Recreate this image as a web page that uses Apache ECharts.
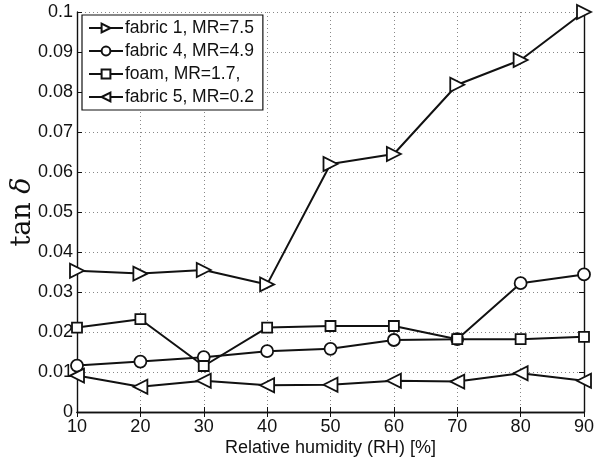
<!DOCTYPE html>
<html><head><meta charset="utf-8">
<script src="https://cdn.jsdelivr.net/npm/echarts@6/dist/echarts.min.js"></script>
<style>html,body{margin:0;padding:0;background:#fff}#c{width:596px;height:461px}</style>
</head><body><div id="c"></div>
<script>
const humidity = [10, 20, 30, 40, 50, 60, 70, 80, 90];
const fabric1 = [0.0353, 0.0346, 0.0355, 0.0319, 0.0620, 0.0645, 0.0818, 0.0880, 0.1000];
const fabric4 = [0.0116, 0.0126, 0.0137, 0.0152, 0.0158, 0.0180, 0.0182, 0.0322, 0.0344];
const foam    = [0.0211, 0.0232, 0.0115, 0.0211, 0.0215, 0.0215, 0.0182, 0.0182, 0.0188];
const fabric5 = [0.0091, 0.0063, 0.0078, 0.0067, 0.0068, 0.0078, 0.0076, 0.0097, 0.0078];
const seriesNames = ['fabric 1, MR=7.5', 'fabric 4, MR=4.9', 'foam, MR=1.7,', 'fabric 5, MR=0.2'];
const xTicks = [10, 20, 30, 40, 50, 60, 70, 80, 90];
const yTickLabels = ['0', '0.01', '0.02', '0.03', '0.04', '0.05', '0.06', '0.07', '0.08', '0.09', '0.1'];

const font = 'Liberation Sans, Arial, sans-serif';
const chart = echarts.init(document.getElementById('c'), null, {renderer: 'canvas'});
function pair(arr) { return humidity.map((h, i) => [h, arr[i]]); }
function mk(name, arr, symbol, rot, size) {
  return {
    name, type: 'line', data: pair(arr), symbol, symbolRotate: rot, symbolSize: size,
    showAllSymbol: true,
    lineStyle: {color: '#111', width: 2},
    itemStyle: {color: '#fff', borderColor: '#111', borderWidth: 1.8},
    emphasis: {disabled: true}, animation: false
  };
}
const dotted = {show: true, lineStyle: {color: '#888', type: [1, 3], width: 1}};
chart.setOption({
  animation: false,
  grid: {left: 77, right: 12, top: 12, bottom: 49, containLabel: false, outerBoundsMode: 'none'},
  legend: {
    left: 82, top: 15, orient: 'vertical', itemGap: 5, itemWidth: 34, itemHeight: 11,
    borderColor: '#111', borderWidth: 1.2, backgroundColor: '#fff', padding: [4, 9, 4, 6],
    textStyle: {fontFamily: font, fontSize: 17.5, lineHeight: 17, color: '#111', padding: [0, 0, 0, -3]},
    data: seriesNames
  },
  xAxis: [{
    type: 'value', min: 10, max: 90, interval: 10, position: 'bottom',
    name: 'Relative humidity (RH) [%]', nameLocation: 'middle', nameGap: 27, nameMoveOverlap: false,
    nameTextStyle: {fontFamily: font, fontSize: 18, color: '#111'},
    axisLine: {lineStyle: {color: '#111', width: 1.4}},
    axisTick: {inside: true, length: 5, lineStyle: {color: '#111'}},
    axisLabel: {fontFamily: font, fontSize: 18, color: '#111', margin: 6,
      formatter: v => xTicks.includes(v) ? String(v) : ''},
    splitLine: dotted
  }, {
    type: 'value', min: 10, max: 90, interval: 10, position: 'top',
    axisLine: {show: true, lineStyle: {color: '#111', width: 1.4}},
    axisTick: {inside: true, length: 5, lineStyle: {color: '#111'}},
    axisLabel: {show: false}, splitLine: {show: false}
  }],
  yAxis: [{
    type: 'value', min: 0, max: 0.1, interval: 0.01, position: 'left',
    name: '{u|tan }{i|δ}', nameLocation: 'middle', nameGap: 41, nameRotate: 90, nameMoveOverlap: false,
    nameTextStyle: {color: '#111', rich: {
      u: {fontFamily: 'DejaVu Serif, Liberation Serif, serif', fontSize: 27, color: '#111'},
      i: {fontFamily: 'DejaVu Serif, Liberation Serif, serif', fontSize: 27, fontStyle: 'italic', color: '#111'}
    }},
    axisLine: {show: true, lineStyle: {color: '#111', width: 1.4}},
    axisTick: {show: true, inside: true, length: 5, lineStyle: {color: '#111'}},
    axisLabel: {fontFamily: font, fontSize: 18, color: '#111', margin: 4,
      formatter: v => yTickLabels[Math.round(v * 100)]},
    splitLine: dotted
  }, {
    type: 'value', min: 0, max: 0.1, interval: 0.01, position: 'right',
    axisLine: {show: true, lineStyle: {color: '#111', width: 1.4}},
    axisTick: {show: true, inside: true, length: 5, lineStyle: {color: '#111'}},
    axisLabel: {show: false}, splitLine: {show: false}
  }],
  series: [
    mk(seriesNames[0], fabric1, 'triangle', -90, 14),
    mk(seriesNames[1], fabric4, 'circle', 0, 12),
    mk(seriesNames[2], foam, 'rect', 0, 10),
    mk(seriesNames[3], fabric5, 'triangle', 90, 14)
  ]
});
</script></body></html>
